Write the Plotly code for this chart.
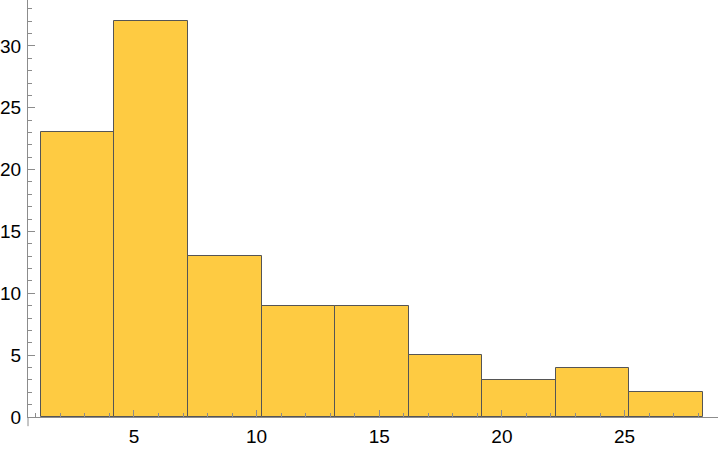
import plotly.graph_objects as go

bin_edges = [1.2, 4.2, 7.2, 10.2, 13.2, 16.2, 19.2, 22.2, 25.2, 28.2]
counts = [23, 32, 13, 9, 9, 5, 3, 4, 2]
x_ticks = [5, 10, 15, 20, 25]
y_ticks = [0, 5, 10, 15, 20, 25, 30]

centers = [(a + b) / 2 for a, b in zip(bin_edges[:-1], bin_edges[1:])]
widths = [b - a for a, b in zip(bin_edges[:-1], bin_edges[1:])]

fig = go.Figure(go.Bar(
    x=centers, y=counts, width=widths,
    marker=dict(color="rgb(254,203,66)", line=dict(color="rgb(85,85,85)", width=1)),
    hoverinfo="skip",
))

axis_col = "rgb(140,140,140)"
font = dict(family="Liberation Sans, Arial, sans-serif", size=19, color="black")

fig.update_layout(
    width=720, height=449,
    margin=dict(l=28, r=2, t=0, b=32),
    paper_bgcolor="white", plot_bgcolor="white",
    showlegend=False,
    bargap=0,
    xaxis=dict(
        range=[0.68, 28.81], showgrid=False, zeroline=False, automargin=False,
        showline=True, linecolor=axis_col, linewidth=1,
        ticks="inside", ticklen=7, tickcolor=axis_col, tickwidth=1,
        tickvals=x_ticks, ticktext=[str(v) for v in x_ticks], tickfont=font,
        ticklabelstandoff=2,
        minor=dict(dtick=1, tick0=0, ticks="inside", ticklen=4, tickcolor=axis_col, showgrid=False),
    ),
    yaxis=dict(
        range=[0, 33.71], showgrid=False, zeroline=False, automargin=False,
        showline=True, linecolor=axis_col, linewidth=1,
        ticks="inside", ticklen=7, tickcolor=axis_col, tickwidth=1,
        tickvals=y_ticks, ticktext=[str(v) for v in y_ticks], tickfont=font,
        ticklabelstandoff=2,
        minor=dict(dtick=1, tick0=0, ticks="inside", ticklen=4, tickcolor=axis_col, showgrid=False),
    ),
    shapes=[dict(type="line", xref="x domain", yref="paper", x0=0, x1=0, y0=-0.022, y1=0,
                 line=dict(color=axis_col, width=1))],
)

fig.write_html("out.html", config={"displayModeBar": False},
               post_script="document.body.style.margin='0';document.body.style.overflow='hidden';")
